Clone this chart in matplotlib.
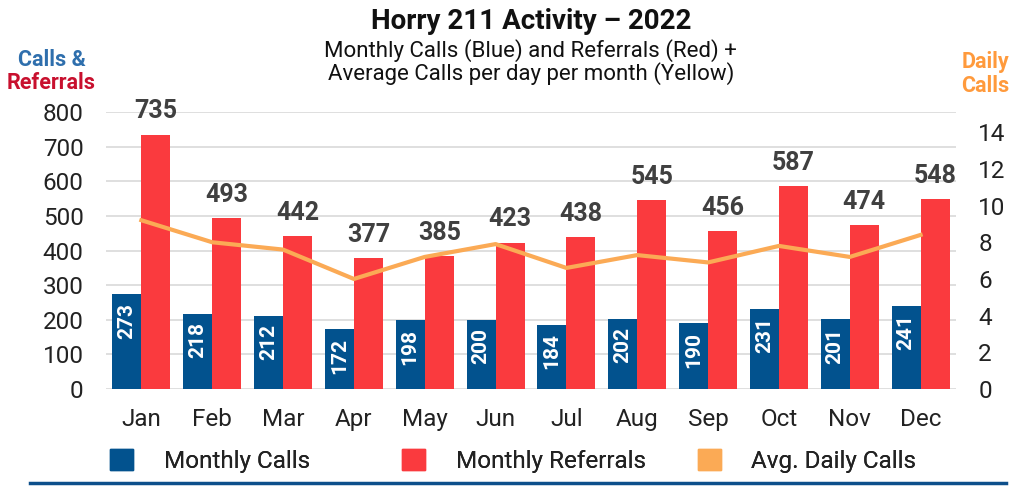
import numpy as np
import matplotlib
matplotlib.use('Agg')
import matplotlib.pyplot as plt
from matplotlib.patches import Patch
from matplotlib.lines import Line2D

plt.rcParams['font.family'] = ['Roboto', 'DejaVu Sans']

# Data
months = ['Jan', 'Feb', 'Mar', 'Apr', 'May', 'Jun', 'Jul', 'Aug', 'Sep', 'Oct', 'Nov', 'Dec']
calls = [273, 218, 212, 172, 198, 200, 184, 202, 190, 231, 201, 241]
referrals = [735, 493, 442, 377, 385, 423, 438, 545, 456, 587, 474, 548]
daily_calls = [9.2, 8.0, 7.6, 6.0, 7.2, 7.9, 6.6, 7.3, 6.9, 7.8, 7.2, 8.4]

legend_labels = ['Monthly Calls', 'Monthly Referrals', 'Avg. Daily Calls']

# Colors
c_blue = '#02528e'
c_red = '#fa3a3e'
c_orange = '#fbaa55'
c_text = '#404040'

fig = plt.figure(figsize=(10.11, 4.86), dpi=100)
ax = fig.add_axes([0.1048, 0.1996, 0.8408, 0.5699])
ax2 = ax.twinx()

x = np.arange(len(months))
w = 0.41

b1 = ax.bar(x - w / 2, calls, w, color=c_blue, zorder=3)
b2 = ax.bar(x + w / 2, referrals, w, color=c_red, zorder=3)

# Value labels
for rect, v in zip(b1, calls):
    ax.annotate(str(v), (rect.get_x() + rect.get_width() / 2, v),
                xytext=(0, -6), textcoords='offset points', rotation=90,
                ha='center', va='top', color='white', fontsize=15, fontweight='bold', zorder=4)
for rect, v in zip(b2, referrals):
    ax.annotate(str(v), (rect.get_x() + rect.get_width() / 2, v),
                xytext=(0, 8), textcoords='offset points',
                ha='center', va='bottom', color=c_text, fontsize=18, fontweight='bold', zorder=4)

ax2.plot(x, daily_calls, color=c_orange, lw=3, zorder=5)

# Axes formatting
ax.set_xlim(-0.5, 11.5)
ax.set_ylim(0, 800)
ax.set_yticks(np.arange(0, 801, 100))
ax2.set_ylim(0, 15.1)
ax2.set_yticks(np.arange(0, 15, 2))
ax.set_xticks(x)
ax.set_xticklabels(months)
ax.grid(axis='y', color='#d9d9d9', lw=1.2, zorder=0)
ax.set_axisbelow(True)
for a in (ax, ax2):
    for s in a.spines.values():
        s.set_visible(False)
ax.tick_params(axis='both', length=0, labelsize=17.5, colors='#222222')
ax.tick_params(axis='y', pad=16)
ax.tick_params(axis='x', pad=14)
ax2.tick_params(axis='y', length=0, labelsize=17.5, colors='#222222', pad=16)

# Titles
fig.text(0.525, 0.955, 'Horry 211 Activity \u2013 2022', ha='center', va='center',
         fontsize=20, fontweight='bold', color='#111111')
fig.text(0.525, 0.896, 'Monthly Calls (Blue) and Referrals (Red) +', ha='center', va='center',
         fontsize=16, color='#111111')
fig.text(0.525, 0.848, 'Average Calls per day per month (Yellow)', ha='center', va='center',
         fontsize=16, color='#111111')

# Axis titles
fig.text(0.051, 0.877, 'Calls &', ha='center', va='center', fontsize=15.5, fontweight='bold', color='#2f6fad')
fig.text(0.051, 0.829, 'Referrals', ha='center', va='center', fontsize=15.5, fontweight='bold', color='#c8102e')
fig.text(0.975, 0.873, 'Daily', ha='center', va='center', fontsize=15.5, fontweight='bold', color='#ff9a3c')
fig.text(0.975, 0.823, 'Calls', ha='center', va='center', fontsize=15.5, fontweight='bold', color='#ff9a3c')

# Legend: three separate entries placed at fixed columns
handles = [Patch(color=c_blue), Patch(color=c_red), Patch(color=c_orange)]
for h, lab, xpos in zip(handles, legend_labels, [0.109, 0.398, 0.690]):
    leg = fig.legend([h], [lab], loc='center left', bbox_to_anchor=(xpos, 0.051),
                     frameon=False, fontsize=17.5, handlelength=0.95, handleheight=0.95,
                     handletextpad=1.25, borderpad=0, borderaxespad=0)
    for t in leg.get_texts():
        t.set_color('#222222')
    fig.add_artist(leg)

# Bottom rule
fig.add_artist(Line2D([0.03, 0.995], [0.006, 0.006], color='#0d4f8b', lw=2.5))

fig.savefig('out.png', dpi=100)
